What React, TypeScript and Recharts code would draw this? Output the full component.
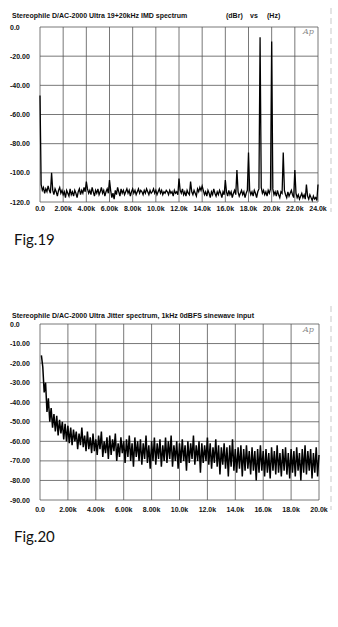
import React from "react";
import { LineChart, Line, XAxis, YAxis, CartesianGrid } from "recharts";

// ---- Fig.19: IMD spectrum (0..24 kHz, 100 Hz steps) ----
const imdStepHz = 100;
const imdLevels = [
  -47, -108, -112, -110, -114, -111, -113, -109, -112, -114,
  -100, -112, -115, -111, -113, -116, -112, -110, -114, -112,
  -115, -113, -117, -112, -114, -116, -111, -115, -113, -116,
  -112, -114, -117, -113, -111, -115, -112, -114, -110, -113,
  -106, -111, -114, -112, -115, -110, -113, -116, -112, -114,
  -111, -115, -113, -110, -114, -112, -116, -113, -111, -114,
  -105, -112, -117, -114, -118, -112, -115, -110, -113, -116,
  -111, -114, -112, -115, -113, -111, -114, -112, -116, -113,
  -111, -114, -112, -115, -113, -111, -114, -112, -113, -115,
  -112, -114, -111, -113, -115, -112, -114, -113, -111, -114,
  -112, -115, -113, -111, -114, -112, -115, -113, -114, -112,
  -113, -115, -112, -114, -113, -116, -112, -114, -113, -115,
  -104, -112, -114, -111, -115, -113, -116, -112, -114, -115,
  -106, -113, -115, -112, -114, -116, -111, -113, -110, -112,
  -109, -112, -115, -113, -116, -112, -114, -117, -113, -115,
  -111, -114, -116, -113, -115, -112, -114, -117, -113, -115,
  -105, -113, -116, -112, -115, -113, -117, -114, -112, -115,
  -98, -113, -116, -114, -112, -115, -113, -117, -114, -112,
  -86, -112, -115, -113, -116, -112, -114, -117, -113, -111,
  -7, -110, -114, -112, -115, -113, -116, -112, -114, -111,
  -10, -111, -115, -113, -116, -112, -115, -117, -113, -114,
  -86, -112, -115, -117, -113, -116, -114, -112, -115, -117,
  -98, -114, -117, -115, -118, -116, -114, -117, -115, -118,
  -108, -116, -118, -115, -117, -119, -116, -118, -117, -119,
  -108,
];
const imdXTicks = [0, 2000, 4000, 6000, 8000, 10000, 12000, 14000, 16000, 18000, 20000, 22000, 24000];
const imdXLabels = ["0.0", "2.00k", "4.00k", "6.00k", "8.00k", "10.0k", "12.0k", "14.0k", "16.0k", "18.0k", "20.0k", "22.0k", "24.0k"];
const imdYTicks = [0, -20, -40, -60, -80, -100, -120];
const imdYLabels = ["0.0", "-20.00", "-40.00", "-60.00", "-80.00", "-100.0", "-120.0"];

// ---- Fig.20: Jitter spectrum (100 Hz .. 20 kHz, 100 Hz steps) ----
const jitStepHz = 100;
const jitLevels = [
  -16, -22, -35, -30, -45, -38, -50, -43, -53, -46,
  -55, -47, -57, -49, -56, -50, -59, -51, -60, -52,
  -61, -53, -62, -54, -60, -55, -64, -56, -62, -53,
  -63, -57, -65, -55, -64, -58, -66, -56, -65, -59,
  -67, -57, -64, -55, -68, -60, -66, -58, -69, -57,
  -67, -59, -65, -56, -70, -61, -68, -58, -66, -60,
  -71, -59, -68, -57, -70, -61, -73, -58, -68, -60,
  -70, -59, -72, -61, -69, -57, -71, -62, -74, -60,
  -70, -58, -72, -61, -69, -59, -73, -62, -70, -58,
  -71, -60, -69, -57, -73, -62, -70, -60, -74, -61,
  -71, -59, -70, -62, -75, -60, -71, -61, -69, -57,
  -72, -62, -70, -60, -76, -61, -71, -62, -70, -58,
  -72, -61, -74, -63, -71, -59, -73, -62, -77, -63,
  -72, -61, -74, -63, -78, -62, -73, -59, -75, -64,
  -76, -63, -74, -62, -78, -64, -75, -62, -74, -65,
  -77, -63, -75, -65, -80, -64, -76, -62, -75, -65,
  -78, -64, -76, -66, -79, -63, -75, -65, -77, -62,
  -76, -66, -78, -64, -75, -63, -77, -66, -79, -64,
  -76, -65, -78, -63, -75, -66, -80, -64, -76, -62,
  -77, -65, -75, -64, -79, -66, -76, -63, -78, -67,
];
const jitXTicks = [0, 2000, 4000, 6000, 8000, 10000, 12000, 14000, 16000, 18000, 20000];
const jitXLabels = ["0.0", "2.00k", "4.00k", "6.00k", "8.00k", "10.0k", "12.0k", "14.0k", "16.0k", "18.0k", "20.0k"];
const jitYTicks = [0, -10, -20, -30, -40, -50, -60, -70, -80, -90];
const jitYLabels = ["0.0", "-10.00", "-20.00", "-30.00", "-40.00", "-50.00", "-60.00", "-70.00", "-80.00", "-90.00"];

const imdData = imdLevels.map((v, i) => ({ f: i * imdStepHz, db: v }));
const jitData = jitLevels.map((v, i) => ({ f: (i + 1) * jitStepHz, db: v }));

const FONT = "'Liberation Sans', Arial, sans-serif";
const INK = "#111";

const makeYTick = (ticks: number[], labels: string[]) => (props: any) => {
  const idx = ticks.indexOf(props.payload.value);
  return (
    <text x={10} y={props.y} dy={2.5} textAnchor="start" fontFamily={FONT} fontSize={7} fontWeight="bold" fill={INK} style={{ fill: INK }}>
      {idx >= 0 ? labels[idx] : ""}
    </text>
  );
};
const makeXTick = (ticks: number[], labels: string[], dy: number) => (props: any) => {
  const idx = ticks.indexOf(props.payload.value);
  return (
    <text x={props.x} y={props.y} dy={dy} textAnchor="middle" fontFamily={FONT} fontSize={7} fontWeight="bold" fill={INK} style={{ fill: INK }}>
      {idx >= 0 ? labels[idx] : ""}
    </text>
  );
};

export default function App() {
  return (
    <div style={{ position: "absolute", left: 0, top: 0, width: 338, height: 627, background: "#fff", overflow: "hidden" }}>
      <div style={{ position: "absolute", left: 0, top: 0 }}>
        <LineChart width={338} height={220} data={imdData} margin={{ top: 27, right: 20, bottom: 0, left: 0 }}>
          <CartesianGrid stroke="#555" strokeWidth={0.8} horizontalValues={imdYTicks} verticalValues={imdXTicks} />
          <XAxis dataKey="f" type="number" domain={[0, 24000]} ticks={imdXTicks} interval={0} height={18}
            axisLine={false} tickLine={false} tickSize={0} tickMargin={0} tick={makeXTick(imdXTicks, imdXLabels, 8.5)} />
          <YAxis type="number" domain={[-120, 0]} ticks={imdYTicks} interval={0} width={40}
            axisLine={false} tickLine={false} tick={makeYTick(imdYTicks, imdYLabels)} />
          <Line dataKey="db" type="linear" stroke="#000" strokeWidth={1.3} dot={false} isAnimationActive={false} />
        </LineChart>
      </div>
      <div style={{ position: "absolute", left: 0, top: 297 }}>
        <LineChart width={338} height={221} data={jitData} margin={{ top: 27, right: 19, bottom: 0, left: 0 }}>
          <CartesianGrid stroke="#555" strokeWidth={0.8} horizontalValues={jitYTicks} verticalValues={jitXTicks} />
          <XAxis dataKey="f" type="number" domain={[0, 20000]} ticks={jitXTicks} interval={0} height={18}
            axisLine={false} tickLine={false} tickSize={0} tickMargin={0} tick={makeXTick(jitXTicks, jitXLabels, 11.5)} />
          <YAxis type="number" domain={[-90, 0]} ticks={jitYTicks} interval={0} width={40}
            axisLine={false} tickLine={false} tick={makeYTick(jitYTicks, jitYLabels)} />
          <Line dataKey="db" type="linear" stroke="#000" strokeWidth={1.5} dot={false} isAnimationActive={false} />
        </LineChart>
      </div>
      <svg width={338} height={627} style={{ position: "absolute", left: 0, top: 0, pointerEvents: "none" }}>
        <g fontFamily={FONT} fontWeight="bold" fontSize={7} fill={INK}>
          <text x={12} y={17.5}>Stereophile  D/AC-2000 Ultra 19+20kHz IMD spectrum</text>
          <text x={226} y={17.5}>(dBr)</text>
          <text x={250} y={17.5}>vs</text>
          <text x={267} y={17.5}>(Hz)</text>
          <text x={12} y={317.5}>Stereophile  D/AC-2000 Ultra Jitter spectrum, 1kHz 0dBFS sinewave input</text>
        </g>
        <g fontFamily="'DejaVu Serif', serif" fontStyle="italic" fontSize={8} fill="#888">
          <text x={303} y={34}>Ap</text>
          <text x={303} y={332}>Ap</text>
        </g>
        <g fontFamily="Lato, 'Open Sans', sans-serif" fontSize={15} fill={INK}>
          <text x={14} y={245}>Fig.19</text>
          <text x={14} y={542}>Fig.20</text>
        </g>
        <g stroke="#bbb" strokeWidth={0.8} fill="none">
          <line x1={331} y1={8} x2={331} y2={212} strokeDasharray="6 4" />
          <line x1={331} y1={306} x2={331} y2={510} strokeDasharray="6 4" />
        </g>
      </svg>
    </div>
  );
}
